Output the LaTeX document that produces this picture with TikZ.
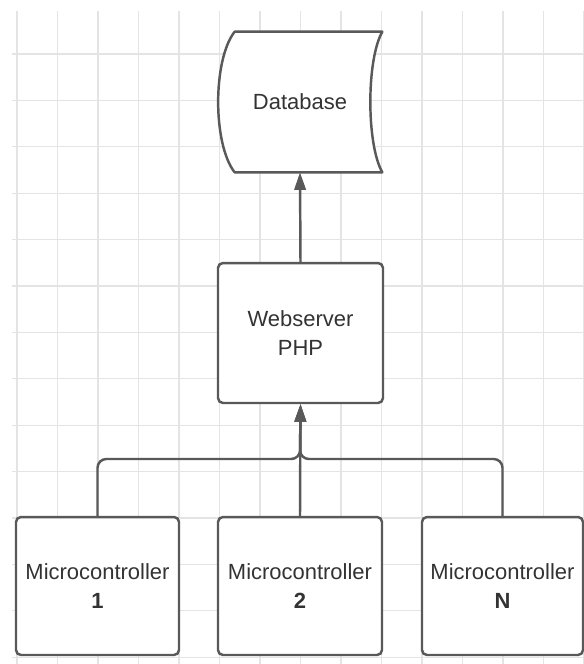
\documentclass[tikz,border=0pt]{standalone}
\usepackage{fontspec}
\setmainfont{Liberation Sans}
\usetikzlibrary{arrows.meta, calc, shapes.misc}
\definecolor{lineGray}{HTML}{595959}
\definecolor{textGray}{HTML}{333333}
\definecolor{gridGray}{HTML}{E4E4E4}
\tikzset{
	box/.style={
		draw=lineGray, line width=1.4pt, rounded corners=2.8pt,
		fill=white, text=textGray, align=center,
		font=\fontsize{12.5}{17}\selectfont
	},
	conn/.style={
		draw=lineGray, line width=1.4pt,
		-{Triangle[length=10pt, width=6.5pt]}
	},
	gridline/.style={draw=gridGray, line width=0.6pt}
}

\begin{document}
\begin{tikzpicture}[x=0.02cm, y=-0.02cm]
	\fill[white] (0,0) rectangle (584,664);
	\useasboundingbox (0,0) rectangle (584,664);
	\foreach \gx in {0,...,14}
		\draw[gridline] ({17+40.5*\gx},11) -- ({17+40.5*\gx},664);
	\foreach \gy in {0,...,13}
		\draw[gridline] (12,{54+46.4*\gy}) -- (584,{54+46.4*\gy});
	\node[
	minimum width=3.28cm, minimum height=2.8cm, inner sep=0pt
	] (db) at (300,102) {};
	\draw[
	draw=lineGray, line width=1.4pt, fill=white, line join=round
	]
	($(db.north west)+(17,0)$) -- (db.north east)
	.. controls ($(db.north east)+(-16,28)$) and ($(db.south east)+(-16,-28)$) .. (db.south east)
	-- ($(db.south west)+(17,0)$)
	.. controls ($(db.south west)+(-5,-28)$) and ($(db.north west)+(-5,28)$) .. cycle;
	\node[
	text=textGray, font=\fontsize{12.5}{17}\selectfont
	] (dbtext) at (db) {Database};
	\node[
	box, minimum width=3.3cm, minimum height=2.8cm
	] (web) at (300.5,333) {Webserver\\PHP};
	\node[
	box, minimum width=3.26cm, minimum height=2.76cm
	] (mc1) at (97.5,586) {Microcontroller\\\textbf{1}};
	\node[
	box, minimum width=3.28cm, minimum height=2.76cm
	] (mc2) at (300,586) {Microcontroller\\\textbf{2}};
	\node[
	box, minimum width=3.22cm, minimum height=2.76cm
	] (mcN) at (502.5,586) {Microcontroller\\\textbf{N}};
	\coordinate (join) at (300,459);
	\draw[conn] (web.north) -- (db.south);
	\draw[conn, rounded corners=5pt] (mc1.north) |- (join) -- (web.south);
	\draw[conn, rounded corners=5pt] (mcN.north) |- (join) -- (web.south);
	\draw[conn] (mc2.north) -- (web.south);
\end{tikzpicture}
\end{document}
